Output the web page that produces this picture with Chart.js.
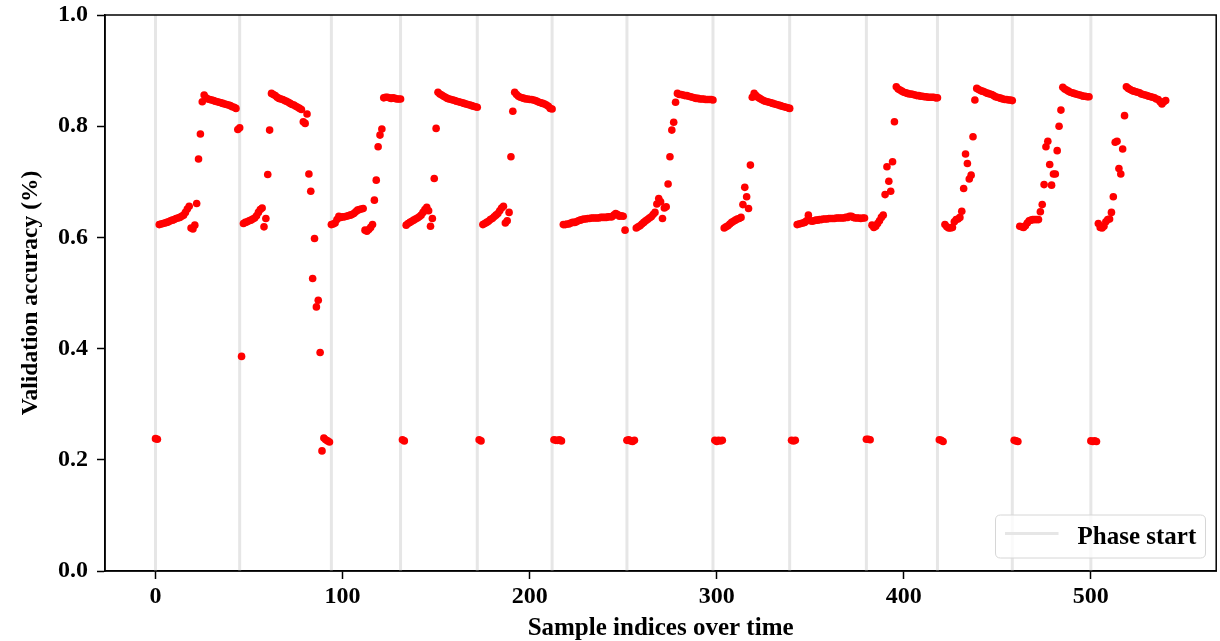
<!DOCTYPE html>
<html>
<head>
<meta charset="utf-8">
<script src="https://cdn.jsdelivr.net/npm/chart.js@4/dist/chart.umd.min.js"></script>
<style>
  html, body { margin: 0; padding: 0; background: #ffffff; }
  canvas { display: block; }
</style>
</head>
<body>
<canvas id="c" width="1220" height="641"></canvas>
<script>
// ---------------- DATA ----------------
const phaseStarts = [0, 45, 94, 131, 172, 212, 252, 298, 339, 380, 418, 458, 500];

// validation accuracy per sample index, grouped by phase (indices are consecutive from 0)
const phase1 = [0.238, 0.237,
  0.623, 0.624, 0.625, 0.626, 0.627, 0.628, 0.630, 0.631, 0.632, 0.634, 0.635, 0.636, 0.638,
  0.640, 0.645, 0.651, 0.656, 0.617, 0.615, 0.622,
  0.661, 0.741, 0.786, 0.844, 0.856,
  0.851, 0.849, 0.848, 0.847, 0.846, 0.845, 0.844, 0.843, 0.842, 0.841, 0.840, 0.839, 0.838, 0.837, 0.835, 0.834, 0.832,
  0.794];
const phase2 = [0.797, 0.386,
  0.625, 0.627, 0.628, 0.630, 0.631, 0.633, 0.635, 0.639, 0.645, 0.650, 0.653,
  0.619, 0.634, 0.713, 0.793, 0.859,
  0.857, 0.855, 0.852, 0.850, 0.849, 0.848, 0.846, 0.845, 0.843, 0.841, 0.839, 0.838, 0.836, 0.834, 0.832, 0.830,
  0.808, 0.805, 0.822, 0.714, 0.683, 0.526, 0.598, 0.475, 0.487, 0.393, 0.216, 0.239, 0.236, 0.234, 0.232];
const phase3 = [0.623, 0.624, 0.626, 0.632, 0.638, 0.636, 0.637, 0.637, 0.638, 0.639, 0.640, 0.641, 0.643, 0.646, 0.649, 0.650, 0.651,
  0.652, 0.613, 0.611, 0.614, 0.618, 0.623, 0.667, 0.703, 0.763, 0.784, 0.795,
  0.851, 0.852, 0.852, 0.851, 0.850, 0.851, 0.850, 0.849, 0.849];
const phase4 = [0.849, 0.236, 0.234,
  0.622, 0.625, 0.627, 0.629, 0.631, 0.633, 0.635, 0.637, 0.640, 0.645, 0.650, 0.654,
  0.648, 0.620, 0.634, 0.706, 0.796, 0.861,
  0.858, 0.856, 0.854, 0.852, 0.850, 0.849, 0.848, 0.847, 0.846, 0.845, 0.844, 0.843, 0.842, 0.841, 0.840, 0.839, 0.838, 0.837, 0.836, 0.835];
const phase5 = [0.834, 0.236, 0.234,
  0.623, 0.625, 0.627, 0.629, 0.632, 0.634, 0.637, 0.640, 0.643, 0.648, 0.653, 0.656,
  0.626, 0.630, 0.645, 0.745, 0.827, 0.861,
  0.857, 0.854, 0.852, 0.851, 0.850, 0.849, 0.849, 0.848, 0.848, 0.847, 0.846, 0.845, 0.843, 0.842, 0.841, 0.840, 0.838, 0.836, 0.832];
const phase6 = [0.831, 0.236, 0.235, 0.235, 0.236, 0.234,
  0.623, 0.623, 0.624, 0.624, 0.626, 0.627, 0.627, 0.628, 0.630, 0.631, 0.632, 0.633, 0.633, 0.634, 0.634, 0.635, 0.635,
  0.635, 0.635, 0.635, 0.636, 0.636, 0.636, 0.636, 0.637, 0.637, 0.637, 0.640, 0.643, 0.641, 0.638, 0.639, 0.638,
  0.613];
const phase7 = [0.235, 0.236, 0.234, 0.233, 0.235,
  0.617, 0.619, 0.621, 0.624, 0.627, 0.630, 0.632, 0.635, 0.637, 0.641, 0.645,
  0.660, 0.670, 0.664, 0.634, 0.653, 0.655, 0.696, 0.745, 0.793, 0.807, 0.843, 0.859,
  0.857, 0.857, 0.856, 0.855, 0.855, 0.854, 0.853, 0.852, 0.851, 0.850, 0.850, 0.849, 0.849, 0.849, 0.848, 0.848, 0.848, 0.848];
const phase8 = [0.847, 0.235, 0.233, 0.235, 0.234, 0.235,
  0.617, 0.619, 0.621, 0.624, 0.627, 0.629, 0.631, 0.633, 0.634, 0.636,
  0.659, 0.690, 0.673, 0.652, 0.730, 0.852, 0.859,
  0.855, 0.852, 0.850, 0.848, 0.846, 0.845, 0.844, 0.843, 0.842, 0.841, 0.840, 0.839, 0.838, 0.837, 0.836, 0.835, 0.834, 0.833];
const phase9 = [0.832, 0.235, 0.234, 0.235,
  0.623, 0.624, 0.625, 0.626, 0.627, 0.630, 0.640, 0.630, 0.629, 0.630, 0.631, 0.631, 0.632, 0.632, 0.633, 0.633, 0.633,
  0.634, 0.634, 0.634, 0.634, 0.635, 0.635, 0.635, 0.635, 0.635, 0.636, 0.636, 0.638, 0.638, 0.636, 0.635, 0.635, 0.635, 0.634, 0.635, 0.635];
const phase10 = [0.237, 0.237, 0.236,
  0.622, 0.618, 0.620, 0.625, 0.630, 0.636,
  0.640, 0.677, 0.727, 0.701, 0.683, 0.736, 0.808, 0.871,
  0.867, 0.865, 0.863, 0.861, 0.860, 0.859, 0.858, 0.858, 0.857, 0.856, 0.855, 0.855, 0.854, 0.854, 0.853, 0.853, 0.852, 0.852, 0.852, 0.852, 0.851];
const phase11 = [0.851, 0.236, 0.235, 0.233,
  0.623, 0.619, 0.617, 0.617, 0.618, 0.628, 0.632, 0.633, 0.636,
  0.647, 0.688, 0.750, 0.733, 0.705, 0.712, 0.781, 0.847, 0.868,
  0.866, 0.864, 0.863, 0.862, 0.860, 0.859, 0.858, 0.857, 0.855, 0.853, 0.852, 0.851, 0.850, 0.849, 0.848, 0.848, 0.847, 0.847];
const phase12 = [0.846, 0.235, 0.234, 0.233,
  0.620, 0.619, 0.618, 0.621, 0.626, 0.630, 0.631, 0.632, 0.632, 0.632,
  0.632, 0.646, 0.659, 0.695, 0.763, 0.773, 0.731, 0.694, 0.714, 0.714, 0.756, 0.800, 0.829, 0.870,
  0.867, 0.865, 0.863, 0.861, 0.860, 0.859, 0.858, 0.857, 0.856, 0.855, 0.854, 0.854, 0.853, 0.853];
const phase13 = [0.234, 0.233, 0.234, 0.233,
  0.625, 0.618, 0.617, 0.620, 0.628, 0.632, 0.633, 0.645, 0.673, 0.771, 0.773, 0.724, 0.714, 0.759, 0.819,
  0.871,
  0.868, 0.866, 0.864, 0.863, 0.862, 0.861, 0.860, 0.858, 0.857, 0.856, 0.855, 0.854, 0.853, 0.852, 0.851, 0.849, 0.848, 0.844, 0.840, 0.844, 0.846];

const accuracy = [].concat(phase1, phase2, phase3, phase4, phase5, phase6, phase7,
                           phase8, phase9, phase10, phase11, phase12, phase13);

const xTicks = [0, 100, 200, 300, 400, 500];
const yTicks = [0.0, 0.2, 0.4, 0.6, 0.8, 1.0];
const xRange = [-27, 567];
const yRange = [0, 1];
const xLabel = 'Sample indices over time';
const yLabel = 'Validation accuracy (%)';
const legendLabel = 'Phase start';

// ---------------- STYLE ----------------
const FONT = "'Liberation Serif', 'Times New Roman', serif";
const PHASE_COLOR = '#e6e6e6';
const POINT_COLOR = '#ff0000';

const phaseDatasets = phaseStarts.map(p => ({
  label: legendLabel,
  data: [{ x: p, y: yRange[0] }, { x: p, y: yRange[1] }],
  showLine: true,
  borderColor: PHASE_COLOR,
  borderWidth: 3,
  pointRadius: 0,
  pointHoverRadius: 0,
  order: 2
}));

const accDataset = {
  label: 'Validation accuracy',
  data: accuracy.map((v, i) => ({ x: i, y: v })),
  backgroundColor: POINT_COLOR,
  borderColor: POINT_COLOR,
  pointRadius: 3.8,
  pointBorderWidth: 0,
  pointHoverRadius: 3.8,
  order: 1
};

const framePlugin = {
  id: 'frameAndLegend',
  afterDraw(chart) {
    const { ctx, chartArea: a } = chart;
    ctx.save();
    // full box frame
    ctx.strokeStyle = '#000';
    ctx.lineWidth = 1.5;
    ctx.strokeRect(a.left, a.top, a.right - a.left, a.bottom - a.top);

    // legend (lower right inside the axes)
    const bw = 210, bh = 43;
    const bx = a.right - 10.7 - bw, by = a.bottom - 13 - bh;
    const r = 5;
    ctx.beginPath();
    ctx.moveTo(bx + r, by);
    ctx.lineTo(bx + bw - r, by);
    ctx.quadraticCurveTo(bx + bw, by, bx + bw, by + r);
    ctx.lineTo(bx + bw, by + bh - r);
    ctx.quadraticCurveTo(bx + bw, by + bh, bx + bw - r, by + bh);
    ctx.lineTo(bx + r, by + bh);
    ctx.quadraticCurveTo(bx, by + bh, bx, by + bh - r);
    ctx.lineTo(bx, by + r);
    ctx.quadraticCurveTo(bx, by, bx + r, by);
    ctx.closePath();
    ctx.fillStyle = 'rgba(255,255,255,0.8)';
    ctx.fill();
    ctx.strokeStyle = '#d6d6d6';
    ctx.lineWidth = 1;
    ctx.stroke();

    ctx.beginPath();
    ctx.strokeStyle = PHASE_COLOR;
    ctx.lineWidth = 3;
    ctx.moveTo(bx + 9.5, by + 18.5);
    ctx.lineTo(bx + 63, by + 18.5);
    ctx.stroke();

    ctx.fillStyle = '#000';
    ctx.font = "bold 25px " + FONT;
    ctx.textBaseline = 'alphabetic';
    ctx.textAlign = 'left';
    ctx.fillText(legendLabel, bx + 82, by + 28.5);
    ctx.restore();
  }
};

const tickFont = { family: FONT, size: 24, weight: 'bold' };

new Chart(document.getElementById('c'), {
  type: 'scatter',
  data: { datasets: [accDataset, ...phaseDatasets] },
  options: {
    responsive: false,
    animation: false,
    devicePixelRatio: 1,
    events: [],
    layout: { padding: { top: 15, right: 2, bottom: 0, left: 0 } },
    plugins: {
      legend: { display: false },
      tooltip: { enabled: false }
    },
    scales: {
      x: {
        type: 'linear',
        min: xRange[0],
        max: xRange[1],
        afterBuildTicks: s => { s.ticks = xTicks.map(v => ({ value: v })); },
        afterFit: s => { s.height = 70; s.paddingLeft = 0; s.paddingRight = 0; },
        grid: { display: true, drawOnChartArea: false, drawTicks: true, tickLength: 8, tickWidth: 1.5, tickColor: '#000' },
        border: { display: true, color: '#000', width: 1.5 },
        ticks: { color: '#000', font: tickFont, padding: 3, maxRotation: 0, autoSkip: false, callback: v => String(v) },
        title: { display: true, text: xLabel, color: '#000', font: { family: FONT, size: 25, weight: 'bold', lineHeight: 1 }, padding: { top: 0, bottom: 0 } }
      },
      y: {
        type: 'linear',
        min: yRange[0],
        max: yRange[1],
        afterBuildTicks: s => { s.ticks = yTicks.map(v => ({ value: v })); },
        afterFit: s => { s.width = 105; s.paddingTop = 0; s.paddingBottom = 0; },
        grid: { display: true, drawOnChartArea: false, drawTicks: true, tickLength: 8, tickWidth: 1.5, tickColor: '#000' },
        border: { display: true, color: '#000', width: 1.5 },
        ticks: { color: '#000', font: tickFont, padding: 9, autoSkip: false, callback: v => Number(v).toFixed(1) },
        title: { display: true, text: yLabel, color: '#000', font: { family: FONT, size: 23.5, weight: 'bold', lineHeight: 1 }, padding: { top: 19, bottom: 0 } }
      }
    }
  },
  plugins: [framePlugin]
});
</script>
</body>
</html>
